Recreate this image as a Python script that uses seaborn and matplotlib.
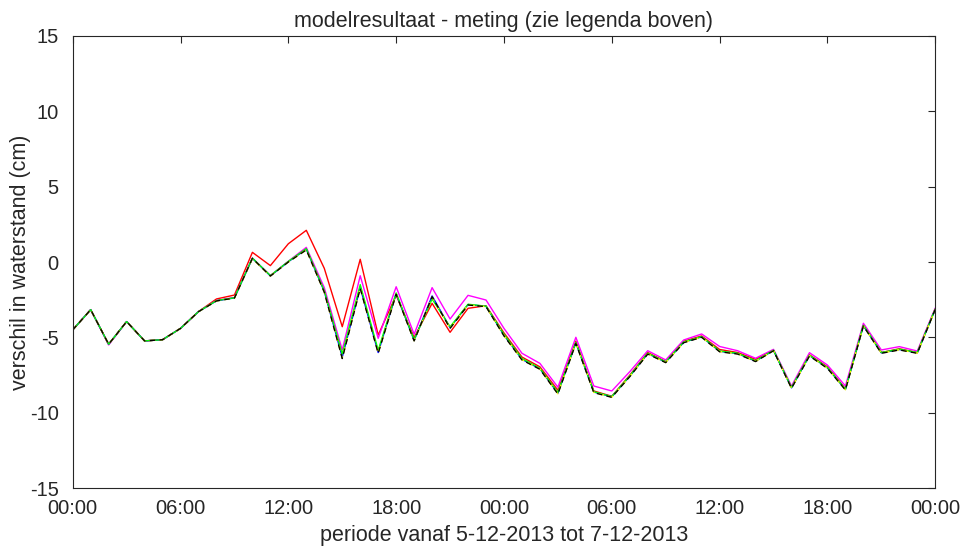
import numpy as np
import pandas as pd
import matplotlib
matplotlib.use("Agg")
import matplotlib.pyplot as plt
import seaborn as sns

hours = list(range(49))
tick_labels = ["00:00", "06:00", "12:00", "18:00", "00:00", "06:00", "12:00", "18:00", "00:00"]

red = [-4.5, -3.16, -5.45, -3.95, -5.23, -5.15, -4.4, -3.29, -2.45, -2.19, 0.64, -0.24, 1.21, 2.1, -0.42,
       -4.29, 0.18, -4.84, -2.2, -5.0, -2.74, -4.66, -3.07, -2.9, -4.7, -6.3, -6.95, -8.5, -5.25, -8.55,
       -8.9, -7.5, -6.0, -6.6, -5.25, -4.9, -5.8, -6.0, -6.45, -5.85, -8.3, -6.15, -6.95, -8.4, -4.2,
       -6.0, -5.75, -6.0, -3.1]
magenta = [-4.5, -3.16, -5.5, -3.95, -5.23, -5.15, -4.4, -3.29, -2.55, -2.35, 0.26, -0.9, 0.05, 0.97, -1.7,
           -5.83, -0.91, -5.06, -1.64, -4.79, -1.7, -3.78, -2.21, -2.52, -4.4, -6.05, -6.72, -8.3, -4.99, -8.22,
           -8.55, -7.27, -5.88, -6.49, -5.17, -4.77, -5.6, -5.88, -6.38, -5.79, -8.22, -6.01, -6.83, -8.22, -4.06,
           -5.83, -5.61, -5.9, -3.05]
blue = [-4.5, -3.16, -5.45, -3.95, -5.23, -5.15, -4.4, -3.29, -2.57, -2.38, 0.25, -0.92, 0.02, 0.85, -1.95,
        -6.3, -1.7, -6.0, -2.1, -5.2, -2.25, -4.35, -2.82, -2.94, -4.85, -6.45, -7.08, -8.7, -5.36, -8.62,
        -8.93, -7.57, -6.07, -6.64, -5.32, -4.96, -5.92, -6.07, -6.57, -5.86, -8.34, -6.2, -7.02, -8.45, -4.22,
        -6.02, -5.8, -6.02, -3.13]
green = [-4.5, -3.16, -5.45, -3.95, -5.23, -5.15, -4.4, -3.29, -2.56, -2.37, 0.25, -0.9, 0.04, 0.88, -1.9,
         -6.1, -1.5, -5.85, -2.05, -5.15, -2.45, -4.3, -2.8, -2.93, -4.8, -6.4, -7.05, -8.65, -5.33, -8.6,
         -8.92, -7.55, -6.05, -6.62, -5.3, -4.95, -5.9, -6.05, -6.55, -5.85, -8.32, -6.18, -7.0, -8.43, -4.2,
         -6.0, -5.78, -6.0, -3.12]
yellow = [-4.5, -3.16, -5.45, -3.95, -5.23, -5.15, -4.4, -3.29, -2.58, -2.39, 0.22, -0.93, 0.0, 0.8, -2.0,
          -6.38, -1.72, -6.03, -2.13, -5.22, -2.32, -4.39, -2.85, -2.96, -4.89, -6.48, -7.1, -8.74, -5.38, -8.65,
          -8.96, -7.59, -6.09, -6.66, -5.34, -4.98, -5.94, -6.09, -6.59, -5.87, -8.36, -6.22, -7.04, -8.47, -4.24,
          -6.04, -5.82, -6.04, -3.14]
black = [-4.5, -3.16, -5.45, -3.95, -5.23, -5.15, -4.4, -3.29, -2.58, -2.39, 0.24, -0.93, 0.0, 0.8, -2.0,
         -6.4, -1.75, -6.05, -2.14, -5.23, -2.3, -4.4, -2.85, -2.96, -4.9, -6.49, -7.11, -8.75, -5.39, -8.66,
         -8.97, -7.6, -6.1, -6.67, -5.35, -4.99, -5.95, -6.1, -6.6, -5.88, -8.37, -6.23, -7.05, -8.48, -4.24,
         -6.05, -5.83, -6.05, -3.14]

series = {"red": red, "magenta": magenta, "blue": blue, "green": green, "yellow": yellow, "black": black}
colors = {"red": "#ff0000", "magenta": "#ff00ff", "blue": "#0000ff", "green": "#00ff00",
          "yellow": "#ffff00", "black": "#000000"}
dash = {"red": "", "magenta": "", "blue": "", "green": "", "yellow": (4, 3), "black": (4, 3)}

df = pd.concat([pd.DataFrame({"hour": hours, "value": v, "model": k}) for k, v in series.items()],
               ignore_index=True)

sns.set_style("white")
plt.rcParams["font.family"] = ["Liberation Sans", "DejaVu Sans"]
plt.rcParams["axes.unicode_minus"] = False

fig = plt.figure(figsize=(9.63, 5.51), dpi=100)
ax = fig.add_axes([0.0755, 0.1138, 0.8957, 0.8214])

sns.lineplot(data=df, x="hour", y="value", hue="model", style="model",
             palette=colors, dashes=dash, linewidth=1.0, legend=False, ax=ax, sort=False)

ax.set_xlim(0, 48)
ax.set_ylim(-15, 15)
ax.set_xticks(range(0, 49, 6))
ax.set_xticklabels(tick_labels)
ax.set_yticks(range(-15, 16, 5))
ax.tick_params(direction="in", length=5, width=0.8, color="#262626", labelsize=14.5,
               top=True, right=True, labelcolor="#262626")
ax.tick_params(axis="x", pad=8)
ax.tick_params(axis="y", pad=10)
for s in ax.spines.values():
    s.set_visible(True)
    s.set_color("#262626")
    s.set_linewidth(0.8)

ax.set_title("modelresultaat - meting (zie legenda boven)", fontsize=15.5, color="#262626", pad=6)
ax.set_xlabel("periode vanaf 5-12-2013 tot 7-12-2013", fontsize=15.5, color="#262626", labelpad=5)
ax.set_ylabel("verschil in waterstand (cm)", fontsize=15.5, color="#262626")
ax.yaxis.set_label_coords(-0.048, 0.5)

fig.savefig("out.png", dpi=100)
